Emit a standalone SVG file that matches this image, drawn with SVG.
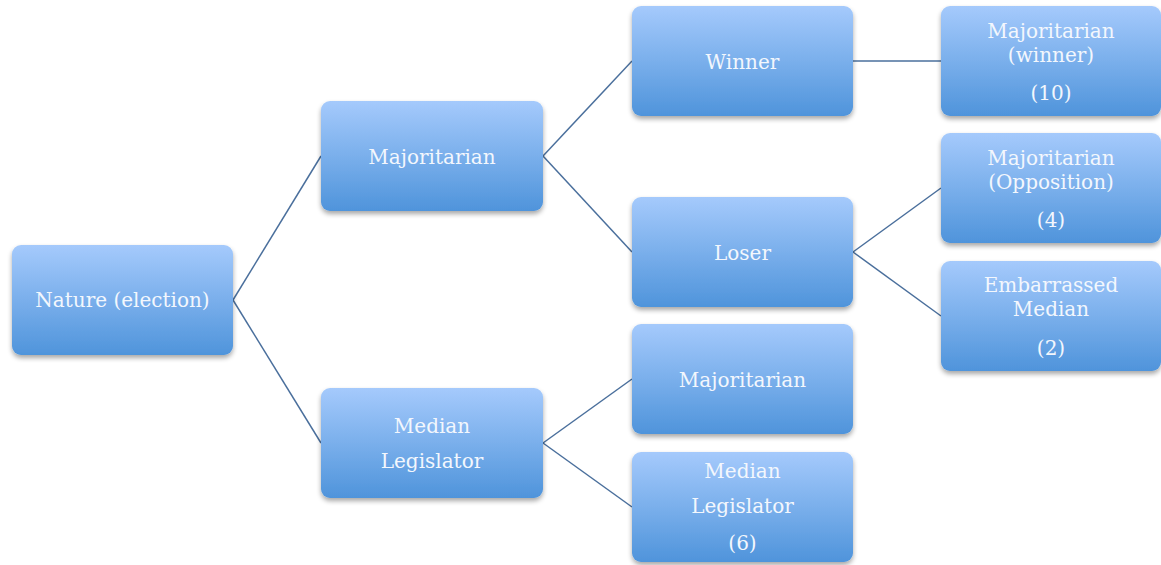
<svg xmlns="http://www.w3.org/2000/svg" width="1161" height="565" viewBox="0 0 1161 565">
<defs>
<linearGradient id="g" x1="0" y1="0" x2="0" y2="1">
<stop offset="0" stop-color="#a5cafc"/>
<stop offset="1" stop-color="#4f94db"/>
</linearGradient>
<filter id="sh" x="-10%" y="-10%" width="120%" height="130%">
<feGaussianBlur in="SourceAlpha" stdDeviation="2.5"/>
<feOffset dx="0" dy="3" result="b"/>
<feComponentTransfer><feFuncA type="linear" slope="0.35"/></feComponentTransfer>
<feMerge><feMergeNode/><feMergeNode in="SourceGraphic"/></feMerge>
</filter>
</defs>
<style>
.box{fill:url(#g);filter:url(#sh)}
.t{font-family:"DejaVu Serif","Liberation Serif",serif;font-size:20px;fill:#f3f7fd;text-anchor:middle}
.c{stroke:#4a6f9c;stroke-width:1.5;fill:none}
</style>
<rect width="1161" height="565" fill="#ffffff"/>
<g id="connectors">
<line class="c" x1="233" y1="300" x2="321" y2="156"/>
<line class="c" x1="233" y1="300" x2="321" y2="443"/>
<line class="c" x1="543" y1="156" x2="632" y2="61"/>
<line class="c" x1="543" y1="156" x2="632" y2="252"/>
<line class="c" x1="853" y1="61" x2="941" y2="61"/>
<line class="c" x1="853" y1="252" x2="941" y2="188"/>
<line class="c" x1="853" y1="252" x2="941" y2="316"/>
<line class="c" x1="543" y1="443" x2="632" y2="379"/>
<line class="c" x1="543" y1="443" x2="632" y2="507"/>
</g>
<g id="nature"><rect class="box" x="12" y="245" width="221" height="110" rx="9"/><text class="t" x="122.5" y="307">Nature (election)</text></g>
<g id="majoritarian1"><rect class="box" x="321" y="101" width="222" height="110" rx="9"/><text class="t" x="432" y="164">Majoritarian</text></g>
<g id="median1"><rect class="box" x="321" y="388" width="222" height="110" rx="9"/><text class="t" x="432" y="433">Median</text><text class="t" x="432" y="468">Legislator</text></g>
<g id="winner"><rect class="box" x="632" y="6" width="221" height="110" rx="9"/><text class="t" x="742.5" y="69">Winner</text></g>
<g id="loser"><rect class="box" x="632" y="197" width="221" height="110" rx="9"/><text class="t" x="742.5" y="260">Loser</text></g>
<g id="majoritarian2"><rect class="box" x="632" y="324" width="221" height="110" rx="9"/><text class="t" x="742.5" y="387">Majoritarian</text></g>
<g id="median2"><rect class="box" x="632" y="452" width="221" height="110" rx="9"/><text class="t" x="742.5" y="478">Median</text><text class="t" x="742.5" y="513">Legislator</text><text class="t" x="742.5" y="550">(6)</text></g>
<g id="majwinner"><rect class="box" x="941" y="6" width="220" height="110" rx="9"/><text class="t" x="1051" y="38">Majoritarian</text><text class="t" x="1051" y="62">(winner)</text><text class="t" x="1051" y="100">(10)</text></g>
<g id="majopp"><rect class="box" x="941" y="133" width="220" height="110" rx="9"/><text class="t" x="1051" y="165">Majoritarian</text><text class="t" x="1051" y="189">(Opposition)</text><text class="t" x="1051" y="227">(4)</text></g>
<g id="embarrassed"><rect class="box" x="941" y="261" width="220" height="110" rx="9"/><text class="t" x="1051" y="292">Embarrassed</text><text class="t" x="1051" y="316">Median</text><text class="t" x="1051" y="355">(2)</text></g>
</svg>
